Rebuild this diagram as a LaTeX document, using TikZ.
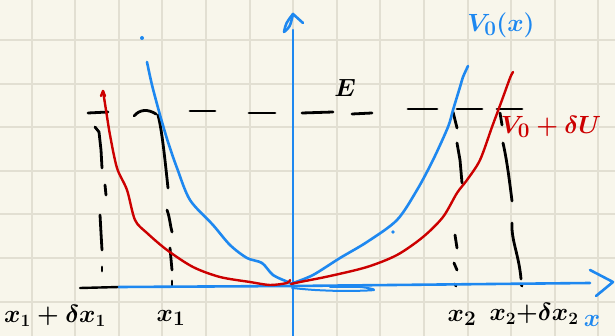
\documentclass[tikz,border=0pt]{standalone}
\usetikzlibrary{arrows.meta}
\definecolor{paper}{HTML}{F8F6EB}
\definecolor{gridc}{HTML}{E2DFD2}
\definecolor{pblue}{HTML}{1E88F0}
\definecolor{pred}{HTML}{CC0000}
\begin{document}
\begin{tikzpicture}[x=1pt,y=-1pt,line cap=round,line join=round,
  bluepen/.style={draw=pblue,line width=2.6pt},
  redpen/.style={draw=pred,line width=2.4pt},
  blackpen/.style={draw=black,line width=2.8pt},
  lab/.style={inner sep=0pt,font=\fontsize{25}{28}\selectfont\boldmath}]
\fill[paper] (0,0) rectangle (615,336);
\useasboundingbox (0,0) rectangle (615,336);
% grid
\foreach \i in {0,...,13} \draw[gridc,line width=2pt] ({31.5+43.6*\i},0) -- ({31.5+43.6*\i},336);
\foreach \j in {0,...,6} \draw[gridc,line width=2pt] (0,{40+43.6*\j}) -- (615,{40+43.6*\j});
% energy level E (dashed, hand drawn)
\draw[blackpen] (88,113) -- (108,112);
\draw[blackpen] (134,116) .. controls (140,109) and (148,109) .. (156,114);
\draw[blackpen] (190,111) -- (215,111);
\draw[blackpen] (249,113) -- (275,113);
\draw[blackpen] (302,113) -- (333,112);
\draw[blackpen] (352,114) -- (372,113);
\draw[blackpen] (408,109) -- (437,109);
\draw[blackpen] (457,109) -- (482,109);
\draw[blackpen] (497,109) -- (522,109);
% vertical dashed: x1+dx1
\draw[blackpen] (95,127) -- (99,132) -- (101,150) -- (102,168);
\draw[blackpen] (105,185) -- (106,195);
\draw[blackpen] (100,215) -- (101,233) -- (102,250);
\draw[blackpen] (102,267) -- (102,271);
% vertical dashed: x1
\draw[blackpen] (158,115) .. controls (162,130) and (165,160) .. (168,188);
\draw[blackpen] (167,210) .. controls (170,218) and (170,225) .. (172,232);
\draw[blackpen] (170,248) -- (172,270);
\draw[blackpen] (172,281) -- (172,286);
% vertical dashed: x2
\draw[blackpen] (453,112) -- (457,128);
\draw[blackpen] (457,143) -- (460,160) -- (462,183);
\draw[blackpen] (455,235) -- (457,248);
\draw[blackpen] (454,263) -- (457,270);
\draw[blackpen] (455,284) -- (456,286);
% vertical dashed: x2+dx2
\draw[blackpen] (500,113) -- (502,125);
\draw[blackpen] (503,143) .. controls (507,160) and (510,185) .. (512,201);
\draw[blackpen] (512,223) .. controls (511,240) and (519,255) .. (521,279);
\draw[blackpen] (521,284) -- (522,286);
% axes
\draw[blackpen,line width=2.4pt] (80,288) -- (119,287);
\draw[bluepen] (119,287) -- (293,286) -- (590,283);
\draw[bluepen] (590,270) -- (613,282) -- (596,296);
\draw[bluepen] (293,336) -- (293,30);
\draw[bluepen] (284,32) .. controls (286,23) .. (293,14) -- (303,23);
\draw[bluepen] (284,32) .. controls (290,27) .. (293,14);
\draw[bluepen,line width=2pt] plot[smooth] coordinates {(292,288) (315,290) (345,291) (374,290) (360,287) (330,287)};
% V0(x)
\draw[bluepen] plot[smooth] coordinates {(147,62) (152,85) (160,115) (168,142) (177,168) (190,200) (213,225) (230,245) (247,258) (262,263) (273,275) (288,282) (293,284)};
\draw[bluepen] plot[smooth] coordinates {(293,283) (313,275) (340,258) (367,242) (397,220) (417,190) (433,160) (448,127) (453,110) (460,87) (463,77) (468,66)};
\fill[pblue] (142,38) circle (2);
\fill[pblue] (393,232) circle (1.8);
% V0 + dU
\draw[redpen] plot[smooth] coordinates {(103,91) (106,110) (110,135) (117,168) (127,190) (135,220) (147,233) (167,250) (193,267) (220,277) (250,282) (270,285) (287,283) (290,280)};
\draw[redpen] (101,96) -- (103,91) -- (105,96);
\draw[redpen] plot[smooth] coordinates {(291,284) (300,282) (330,276) (367,267) (397,255) (423,237) (443,217) (457,193) (467,180) (480,160) (492,127) (502,100) (510,78) (513,72)};
% labels
\node[lab,text=pblue,font=\fontsize{31}{34}\selectfont\boldmath] (lv0) at (501,25) {$V_0(x)$};
\node[lab,text=pred,font=\fontsize{29}{32}\selectfont\boldmath] (lvd) at (551,127) {$V_0+\delta U$};
\node[lab,font=\fontsize{32}{34}\selectfont\boldmath] (lE) at (345,88) {$E$};
\node[lab,font=\fontsize{27}{30}\selectfont\boldmath] (lx1d) at (55,316) {$x_1+\delta x_1$};
\node[lab,font=\fontsize{28}{30}\selectfont\boldmath] (lx1) at (171,318) {$x_1$};
\node[lab,font=\fontsize{28}{30}\selectfont\boldmath] (lx2) at (462,318) {$x_2$};
\node[lab,font=\fontsize{24}{26}\selectfont\boldmath] (lx2d) at (534,314) {$x_2{+}\delta x_2$};
\node[lab,text=pblue,font=\fontsize{30}{32}\selectfont\boldmath] (lx) at (592,321) {$x$};
\end{tikzpicture}
\end{document}
